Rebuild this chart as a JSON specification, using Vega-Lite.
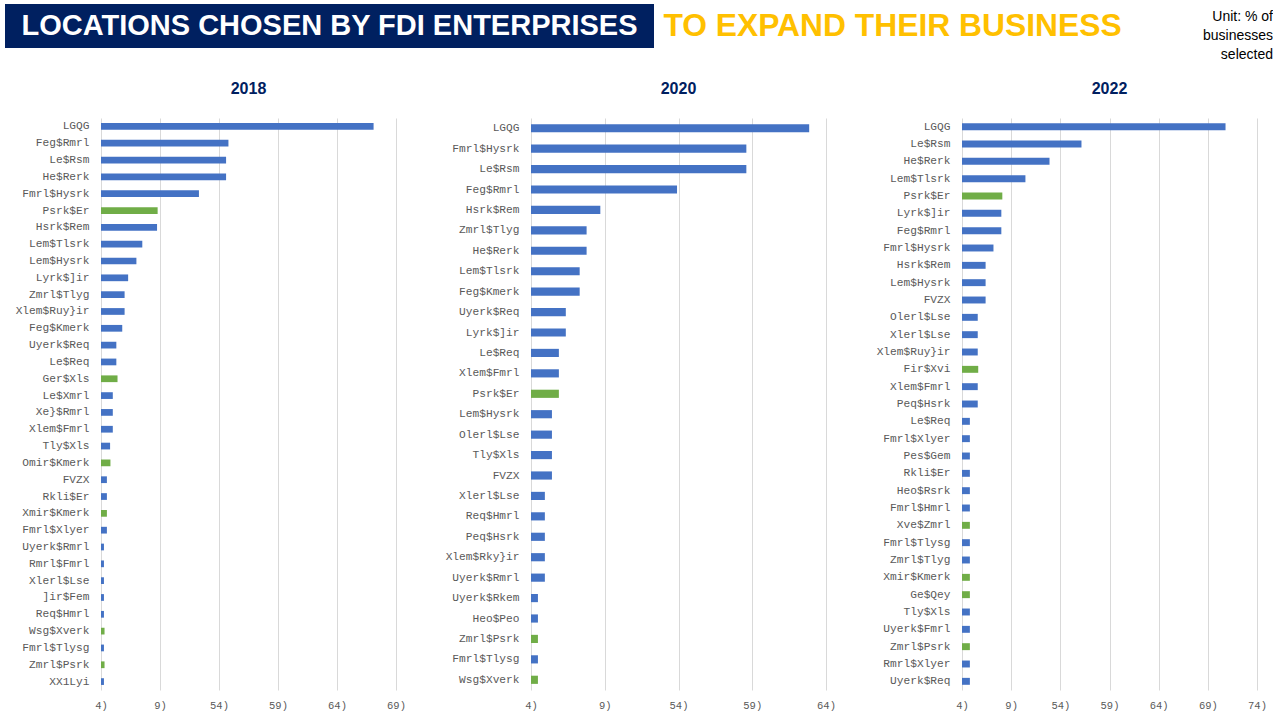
{
  "$schema": "https://vega.github.io/schema/vega-lite/v6.json",
  "background": "white",
  "padding": {"left": 5, "top": 4, "right": 0, "bottom": 0},
  "config": {
    "view": {"stroke": null},
    "font": "Liberation Sans",
    "axisX": {"labelFlush": false},
    "title": {"font": "Liberation Sans", "fontSize": 16, "fontWeight": "bold", "color": "#002060", "offset": 21}
  },
  "spacing": 19,
  "vconcat": [
    {
      "spacing": 0,
      "hconcat": [
        {
          "width": 649, "height": 44,
          "view": {"fill": "#002060", "stroke": null},
          "data": {"values": [{"t": "LOCATIONS CHOSEN BY FDI ENTERPRISES"}]},
          "mark": {"type": "text", "color": "white", "fontSize": 29, "fontWeight": "bold", "font": "Liberation Sans"},
          "encoding": {"text": {"field": "t"}}
        },
        {
          "width": 477, "height": 44,
          "data": {"values": [{"t": "TO EXPAND THEIR BUSINESS"}]},
          "mark": {"type": "text", "color": "#FFC000", "fontSize": 31.8, "fontWeight": "bold", "font": "Liberation Sans"},
          "encoding": {"text": {"field": "t"}}
        },
        {
          "width": 142, "height": 44,
          "data": {"values": [{"t": "Unit: % of\nbusinesses\nselected"}]},
          "mark": {"type": "text", "color": "black", "fontSize": 14, "align": "right", "lineBreak": "\n", "lineHeight": 19, "dy": -9, "font": "Liberation Sans"},
          "encoding": {"text": {"field": "t"}, "x": {"value": "width"}}
        }
      ]
    },
    {
      "spacing": 5,
      "hconcat": [
        {
          "width": 1, "height": 1,
          "data": {"values": []},
          "mark": {"type": "point", "opacity": 0}
        },
        {
          "width": 295, "height": 572,
          "title": "2018",
          "data": {"values": [
            {"loc": "LGQG", "pct": 23.1, "m": "n"},
            {"loc": "Feg$Rmrl", "pct": 10.8, "m": "n"},
            {"loc": "Le$Rsm", "pct": 10.6, "m": "n"},
            {"loc": "He$Rerk", "pct": 10.6, "m": "n"},
            {"loc": "Fmrl$Hysrk", "pct": 8.3, "m": "n"},
            {"loc": "Psrk$Er", "pct": 4.8, "m": "y"},
            {"loc": "Hsrk$Rem", "pct": 4.75, "m": "n"},
            {"loc": "Lem$Tlsrk", "pct": 3.5, "m": "n"},
            {"loc": "Lem$Hysrk", "pct": 3.0, "m": "n"},
            {"loc": "Lyrk$]ir", "pct": 2.3, "m": "n"},
            {"loc": "Zmrl$Tlyg", "pct": 2.0, "m": "n"},
            {"loc": "Xlem$Ruy}ir", "pct": 2.0, "m": "n"},
            {"loc": "Feg$Kmerk", "pct": 1.8, "m": "n"},
            {"loc": "Uyerk$Req", "pct": 1.3, "m": "n"},
            {"loc": "Le$Req", "pct": 1.3, "m": "n"},
            {"loc": "Ger$Xls", "pct": 1.4, "m": "y"},
            {"loc": "Le$Xmrl", "pct": 1.0, "m": "n"},
            {"loc": "Xe}$Rmrl", "pct": 1.0, "m": "n"},
            {"loc": "Xlem$Fmrl", "pct": 1.0, "m": "n"},
            {"loc": "Tly$Xls", "pct": 0.77, "m": "n"},
            {"loc": "Omir$Kmerk", "pct": 0.8, "m": "y"},
            {"loc": "FVZX", "pct": 0.5, "m": "n"},
            {"loc": "Rkli$Er", "pct": 0.5, "m": "n"},
            {"loc": "Xmir$Kmerk", "pct": 0.5, "m": "y"},
            {"loc": "Fmrl$Xlyer", "pct": 0.5, "m": "n"},
            {"loc": "Uyerk$Rmrl", "pct": 0.25, "m": "n"},
            {"loc": "Rmrl$Fmrl", "pct": 0.25, "m": "n"},
            {"loc": "Xlerl$Lse", "pct": 0.25, "m": "n"},
            {"loc": "]ir$Fem", "pct": 0.25, "m": "n"},
            {"loc": "Req$Hmrl", "pct": 0.25, "m": "n"},
            {"loc": "Wsg$Xverk", "pct": 0.3, "m": "y"},
            {"loc": "Fmrl$Tlysg", "pct": 0.25, "m": "n"},
            {"loc": "Zmrl$Psrk", "pct": 0.3, "m": "y"},
            {"loc": "XX1Lyi", "pct": 0.25, "m": "n"}
          ]},
          "mark": {"type": "bar"},
          "encoding": {
            "y": {"field": "loc", "type": "nominal", "sort": null,
              "scale": {"paddingInner": 0.6, "paddingOuter": 0.3},
              "axis": {"title": null, "ticks": false, "domain": false, "grid": false, "labelFont": "Liberation Mono", "labelFontSize": 11.2, "labelColor": "#595959", "labelPadding": 12, "minExtent": 90, "maxExtent": 90, "labelLimit": 200}},
            "x": {"field": "pct", "type": "quantitative",
              "scale": {"domain": [0, 25], "nice": false, "zero": true},
              "axis": {"title": null, "values": [0, 5, 10, 15, 20, 25], "ticks": false, "domain": false, "gridColor": "#D9D9D9", "labelFont": "Liberation Mono", "labelFontSize": 10.5, "labelColor": "#595959", "labelPadding": 10,
                "labelExpr": "datum.value == 0 ? '4)' : datum.value == 5 ? '9)' : datum.value == 10 ? '54)' : datum.value == 15 ? '59)' : datum.value == 20 ? '64)' : datum.value == 25 ? '69)' : '74)'"}},
            "color": {"field": "m", "type": "nominal", "scale": {"domain": ["n", "y"], "range": ["#4472C4", "#70AD47"]}, "legend": null}
          }
        },
        {
          "width": 295, "height": 572,
          "title": "2020",
          "data": {"values": [
            {"loc": "LGQG", "pct": 18.86, "m": "n"},
            {"loc": "Fmrl$Hysrk", "pct": 14.6, "m": "n"},
            {"loc": "Le$Rsm", "pct": 14.6, "m": "n"},
            {"loc": "Feg$Rmrl", "pct": 9.9, "m": "n"},
            {"loc": "Hsrk$Rem", "pct": 4.7, "m": "n"},
            {"loc": "Zmrl$Tlyg", "pct": 3.77, "m": "n"},
            {"loc": "He$Rerk", "pct": 3.77, "m": "n"},
            {"loc": "Lem$Tlsrk", "pct": 3.3, "m": "n"},
            {"loc": "Feg$Kmerk", "pct": 3.3, "m": "n"},
            {"loc": "Uyerk$Req", "pct": 2.36, "m": "n"},
            {"loc": "Lyrk$]ir", "pct": 2.36, "m": "n"},
            {"loc": "Le$Req", "pct": 1.89, "m": "n"},
            {"loc": "Xlem$Fmrl", "pct": 1.89, "m": "n"},
            {"loc": "Psrk$Er", "pct": 1.89, "m": "y"},
            {"loc": "Lem$Hysrk", "pct": 1.42, "m": "n"},
            {"loc": "Olerl$Lse", "pct": 1.42, "m": "n"},
            {"loc": "Tly$Xls", "pct": 1.42, "m": "n"},
            {"loc": "FVZX", "pct": 1.42, "m": "n"},
            {"loc": "Xlerl$Lse", "pct": 0.94, "m": "n"},
            {"loc": "Req$Hmrl", "pct": 0.94, "m": "n"},
            {"loc": "Peq$Hsrk", "pct": 0.94, "m": "n"},
            {"loc": "Xlem$Rky}ir", "pct": 0.94, "m": "n"},
            {"loc": "Uyerk$Rmrl", "pct": 0.94, "m": "n"},
            {"loc": "Uyerk$Rkem", "pct": 0.47, "m": "n"},
            {"loc": "Heo$Peo", "pct": 0.47, "m": "n"},
            {"loc": "Zmrl$Psrk", "pct": 0.47, "m": "y"},
            {"loc": "Fmrl$Tlysg", "pct": 0.47, "m": "n"},
            {"loc": "Wsg$Xverk", "pct": 0.47, "m": "y"}
          ]},
          "mark": {"type": "bar"},
          "encoding": {
            "y": {"field": "loc", "type": "nominal", "sort": null,
              "scale": {"paddingInner": 0.6, "paddingOuter": 0.3},
              "axis": {"title": null, "ticks": false, "domain": false, "grid": false, "labelFont": "Liberation Mono", "labelFontSize": 11.2, "labelColor": "#595959", "labelPadding": 12, "minExtent": 120, "maxExtent": 120, "labelLimit": 200}},
            "x": {"field": "pct", "type": "quantitative",
              "scale": {"domain": [0, 20], "nice": false, "zero": true},
              "axis": {"title": null, "values": [0, 5, 10, 15, 20], "ticks": false, "domain": false, "gridColor": "#D9D9D9", "labelFont": "Liberation Mono", "labelFontSize": 10.5, "labelColor": "#595959", "labelPadding": 10,
                "labelExpr": "datum.value == 0 ? '4)' : datum.value == 5 ? '9)' : datum.value == 10 ? '54)' : datum.value == 15 ? '59)' : datum.value == 20 ? '64)' : datum.value == 25 ? '69)' : '74)'"}},
            "color": {"field": "m", "type": "nominal", "scale": {"domain": ["n", "y"], "range": ["#4472C4", "#70AD47"]}, "legend": null}
          }
        },
        {
          "width": 295, "height": 572,
          "title": "2022",
          "data": {"values": [
            {"loc": "LGQG", "pct": 26.8, "m": "n"},
            {"loc": "Le$Rsm", "pct": 12.15, "m": "n"},
            {"loc": "He$Rerk", "pct": 8.9, "m": "n"},
            {"loc": "Lem$Tlsrk", "pct": 6.45, "m": "n"},
            {"loc": "Psrk$Er", "pct": 4.1, "m": "y"},
            {"loc": "Lyrk$]ir", "pct": 4.0, "m": "n"},
            {"loc": "Feg$Rmrl", "pct": 4.0, "m": "n"},
            {"loc": "Fmrl$Hysrk", "pct": 3.2, "m": "n"},
            {"loc": "Hsrk$Rem", "pct": 2.4, "m": "n"},
            {"loc": "Lem$Hysrk", "pct": 2.4, "m": "n"},
            {"loc": "FVZX", "pct": 2.4, "m": "n"},
            {"loc": "Olerl$Lse", "pct": 1.6, "m": "n"},
            {"loc": "Xlerl$Lse", "pct": 1.6, "m": "n"},
            {"loc": "Xlem$Ruy}ir", "pct": 1.6, "m": "n"},
            {"loc": "Fir$Xvi", "pct": 1.65, "m": "y"},
            {"loc": "Xlem$Fmrl", "pct": 1.6, "m": "n"},
            {"loc": "Peq$Hsrk", "pct": 1.6, "m": "n"},
            {"loc": "Le$Req", "pct": 0.8, "m": "n"},
            {"loc": "Fmrl$Xlyer", "pct": 0.8, "m": "n"},
            {"loc": "Pes$Gem", "pct": 0.8, "m": "n"},
            {"loc": "Rkli$Er", "pct": 0.8, "m": "n"},
            {"loc": "Heo$Rsrk", "pct": 0.8, "m": "n"},
            {"loc": "Fmrl$Hmrl", "pct": 0.8, "m": "n"},
            {"loc": "Xve$Zmrl", "pct": 0.8, "m": "y"},
            {"loc": "Fmrl$Tlysg", "pct": 0.8, "m": "n"},
            {"loc": "Zmrl$Tlyg", "pct": 0.8, "m": "n"},
            {"loc": "Xmir$Kmerk", "pct": 0.8, "m": "y"},
            {"loc": "Ge$Qey", "pct": 0.8, "m": "y"},
            {"loc": "Tly$Xls", "pct": 0.8, "m": "n"},
            {"loc": "Uyerk$Fmrl", "pct": 0.8, "m": "n"},
            {"loc": "Zmrl$Psrk", "pct": 0.8, "m": "y"},
            {"loc": "Rmrl$Xlyer", "pct": 0.8, "m": "n"},
            {"loc": "Uyerk$Req", "pct": 0.8, "m": "n"}
          ]},
          "mark": {"type": "bar"},
          "encoding": {
            "y": {"field": "loc", "type": "nominal", "sort": null,
              "scale": {"paddingInner": 0.6, "paddingOuter": 0.3},
              "axis": {"title": null, "ticks": false, "domain": false, "grid": false, "labelFont": "Liberation Mono", "labelFontSize": 11.2, "labelColor": "#595959", "labelPadding": 12, "minExtent": 121, "maxExtent": 121, "labelLimit": 200}},
            "x": {"field": "pct", "type": "quantitative",
              "scale": {"domain": [0, 30], "nice": false, "zero": true},
              "axis": {"title": null, "values": [0, 5, 10, 15, 20, 25, 30], "ticks": false, "domain": false, "gridColor": "#D9D9D9", "labelFont": "Liberation Mono", "labelFontSize": 10.5, "labelColor": "#595959", "labelPadding": 10,
                "labelExpr": "datum.value == 0 ? '4)' : datum.value == 5 ? '9)' : datum.value == 10 ? '54)' : datum.value == 15 ? '59)' : datum.value == 20 ? '64)' : datum.value == 25 ? '69)' : '74)'"}},
            "color": {"field": "m", "type": "nominal", "scale": {"domain": ["n", "y"], "range": ["#4472C4", "#70AD47"]}, "legend": null}
          }
        }
      ]
    }
  ]
}
